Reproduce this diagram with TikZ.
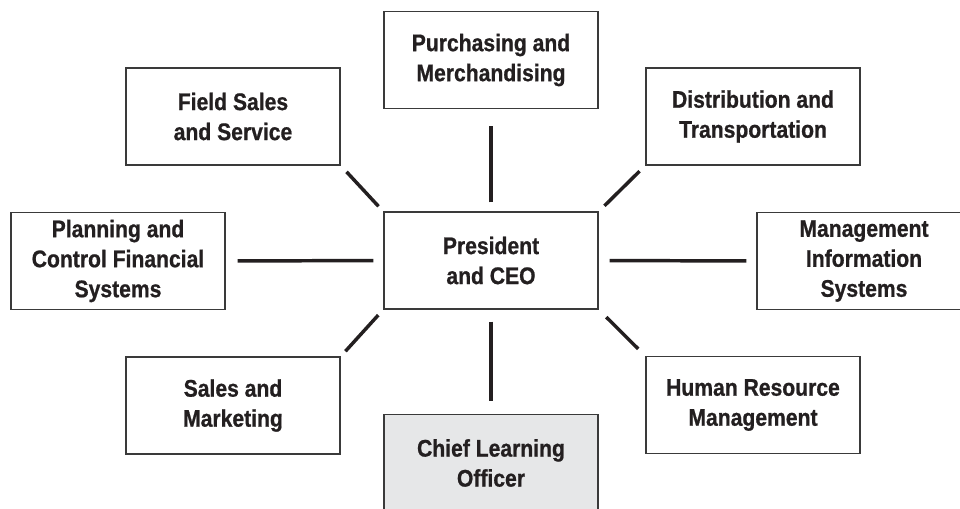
\documentclass[tikz,border=0pt]{standalone}
\usepackage{fontspec}
\setmainfont{Liberation Sans}[FakeStretch=0.88, BoldFeatures={FakeBold=0.8}]
\definecolor{ink}{HTML}{231F20}
\definecolor{boxline}{HTML}{3A3A3A}
\definecolor{highlight}{HTML}{E6E7E8}
\begin{document}
\begin{tikzpicture}[x=0.75pt,y=-0.75pt,
  unitbox/.style={draw=boxline, line width=1.1pt, fill=white,
    minimum width=160.5pt, minimum height=72.5pt, inner sep=0pt,
    align=center, text=ink,
    font=\fontsize{18}{22.5}\selectfont\bfseries},
  keybox/.style={unitbox, fill=highlight},
  link/.style={draw=ink, line width=2.6pt}]
\useasboundingbox (0,0) rectangle (960,508);
\clip (0,0) rectangle (960,508);

% departments around the chief executive
\node[unitbox] (ceo) at (491,260.5) {President\\and CEO};
\node[unitbox] (pm)  at (491,60)    {Purchasing and\\Merchandising};
\node[unitbox] (fs)  at (233,116.5) {Field Sales\\and Service};
\node[unitbox] (dt)  at (753,116.5) {Distribution and\\Transportation};
\node[unitbox] (pc)  at (118,261)   {Planning and\\Control Financial\\Systems};
\node[unitbox] (mis) at (864,261)   {Management\\Information\\Systems};
\node[unitbox] (sm)  at (233,405.5) {Sales and\\Marketing};
\node[unitbox] (hr)  at (753,405)   {Human Resource\\Management};
\node[keybox]  (clo) at (491,463)   {Chief Learning\\Officer};

% spokes, each stopping short of both boxes
\draw[link, shorten <=6.75pt, shorten >=12.75pt] (ceo.north) -- (pm.south);
\draw[link, shorten <=5.25pt, shorten >=6.4pt] (ceo.north west) -- (fs.south east);
\draw[link, shorten <=6pt, shorten >=6pt] (ceo.north east) -- (dt.south west);
\draw[link, shorten <=7.5pt, shorten >=9pt] (ceo.west) -- (pc.east);
\draw[link, shorten <=8.25pt, shorten >=7.5pt] (ceo.east) -- (mis.west);
\draw[link, shorten <=5.6pt, shorten >=5.25pt] (ceo.south west) -- (sm.north east);
\draw[link, shorten <=8pt, shorten >=7.5pt] (ceo.south east) -- (hr.north west);
\draw[link, shorten <=9pt, shorten >=9.75pt] (ceo.south) -- (clo.north);
\end{tikzpicture}
\end{document}
